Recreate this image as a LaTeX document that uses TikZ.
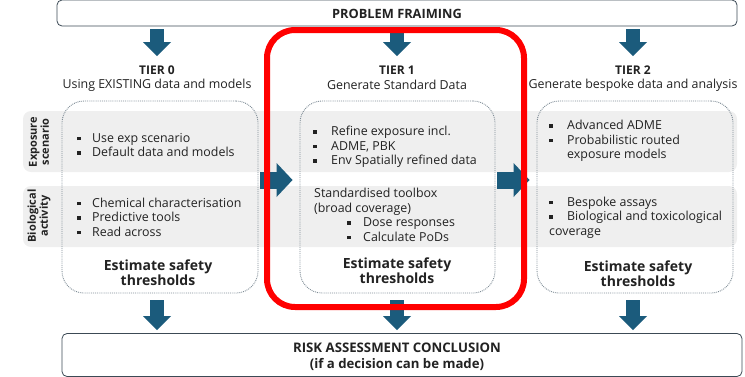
\documentclass[tikz,border=0pt]{standalone}
\usepackage{fontspec}
\setmainfont{Open Sans}
\usetikzlibrary{arrows.meta}
\definecolor{arrowblue}{HTML}{1B5B7C}
\definecolor{bandgray}{HTML}{EFEFEF}
\definecolor{boxline}{HTML}{3C4A55}
\definecolor{dotline}{HTML}{7F8C96}
\definecolor{txtcol}{HTML}{222222}
\newcommand\sq[1][16pt]{\makebox[#1][l]{\rule[2pt]{3.5pt}{3.5pt}}}
\begin{document}
\begin{tikzpicture}[x=1pt,y=-1pt,
  every node/.style={inner sep=0pt, text=txtcol},
  font=\fontsize{12.4}{14.5}\selectfont,
  frame/.style={draw=boxline, line width=0.8pt, rounded corners=5pt, minimum width=680pt, fill=white},
  tierbox/.style={draw=dotline, densely dotted, line width=0.9pt, rounded corners=22pt, minimum width=196pt, minimum height=192pt},
  bigdown/.style={draw=arrowblue, line width=14pt, -{Triangle[width=28pt,length=14pt,line width=0pt]}},
  bigright/.style={draw=arrowblue, line width=17pt, -{Triangle[width=34pt,length=16pt,line width=0pt]}},
  txt/.style={anchor=base west, align=left},
  bold/.style={font=\fontsize{12}{15}\selectfont\bfseries},
  estim/.style={font=\fontsize{14}{15}\selectfont\bfseries, align=center, anchor=base},
  sidelab/.style={font=\fontsize{11}{12}\selectfont\bfseries, rotate=90, align=center},
  redframe/.style={draw=red, line width=6pt, rounded corners=28pt},
]
\useasboundingbox (0,0) rectangle (745,376);

% bands
\fill[bandgray, rounded corners=8pt] (23,111) rectangle (737,172);
\fill[bandgray, rounded corners=8pt] (23,186) rectangle (737,247);
\node[sidelab] (le) at (39,142) {Exposure\\scenario};
\node[sidelab] (lb) at (39,216) {Biological\\activity};

% frames
\node[frame, minimum height=26pt] (pf) at (397,13) {};
\node[font=\fontsize{12.8}{14}\selectfont\bfseries] (pft) at (397,14) {PROBLEM FRAIMING};
\node[frame, minimum height=43pt] (rac) at (402,355) {};
\node[font=\fontsize{13.2}{16}\selectfont\bfseries, align=center] (ract) at (397,357) {RISK ASSESSMENT CONCLUSION\\(if a decision can be made)};

% tier titles
\node[bold] (tt0) at (157,70) {TIER 0};
\node (st0) at (157,85) {Using EXISTING data and models};
\node[bold] (tt1) at (397,70) {TIER 1};
\node (st1) at (397,85) {Generate Standard Data};
\node[bold] (tt2) at (633,70) {TIER 2};
\node (st2) at (633,85) {Generate bespoke data and analysis};

% tier boxes
\node[tierbox] (b0) at (160,197) {};
\node[tierbox, minimum width=195pt] (b1) at (397.5,197) {};
\node[tierbox] (b2) at (635,197) {};

% tier 0 text (anchor = baseline of last line)
\node[txt] (e0) at (77,156.5) {\sq[15pt]Use exp scenario\\\sq[15pt]Default data and models};
\node[txt] (g0) at (77,236) {\sq[15pt]Chemical characterisation\\\sq[15pt]Predictive tools\\\sq[15pt]Read across};
\node[estim] (s0) at (158,285) {Estimate safety\\thresholds};

% tier 1 text
\node[txt] (e1) at (313,164.5) {\sq[18pt]Refine exposure incl.\\\sq[18pt]ADME, PBK\\\sq[18pt]Env Spatially refined data};
\node[txt] (g1) at (314,241) {Standardised toolbox\\(broad coverage)\\\hspace{33pt}\sq Dose responses\\\hspace{33pt}\sq Calculate PoDs};
\node[estim] (s1) at (397,283.5) {Estimate safety\\thresholds};

% tier 2 text
\node[txt] (e2) at (549,158.5) {\sq[18pt]Advanced ADME\\\sq[18pt]Probabilistic routed\\\hspace{18pt}exposure models};
\node[txt] (g2) at (549,235) {\sq[18pt]Bespoke assays\\\sq[18pt]Biological and toxicological\\coverage};
\node[estim] (s2) at (638,286) {Estimate safety\\thresholds};

% arrows
\coordinate (d0) at (157,56);
\coordinate (d1) at (397,56);
\coordinate (d2) at (633,56);
\draw[bigdown] (pf.south -| d0) ++(0,3) -- (d0);
\draw[bigdown] (pf.south -| d1) ++(0,3) -- (d1);
\draw[bigdown] (pf.south -| d2) ++(0,3) -- (d2);
\draw[bigdown] ([yshift=-7pt]b0.south -| d0) -- ([yshift=3pt]rac.north -| d0);
\draw[bigdown] ([yshift=-7pt]b1.south -| d1) -- ([yshift=3pt]rac.north -| d1);
\draw[bigdown] ([yshift=-7pt]b2.south -| d2) -- ([yshift=3pt]rac.north -| d2);
\draw[bigright] ([shift={(2,-17)}]b0.east) -- ([shift={(-7,-17)}]b1.west);
\draw[bigright] ([shift={(2,-17)}]b1.east) -- ([shift={(-7,-17)}]b2.west);

% highlight
\draw[redframe] (267,30) rectangle (524,307);
\end{tikzpicture}
\end{document}
